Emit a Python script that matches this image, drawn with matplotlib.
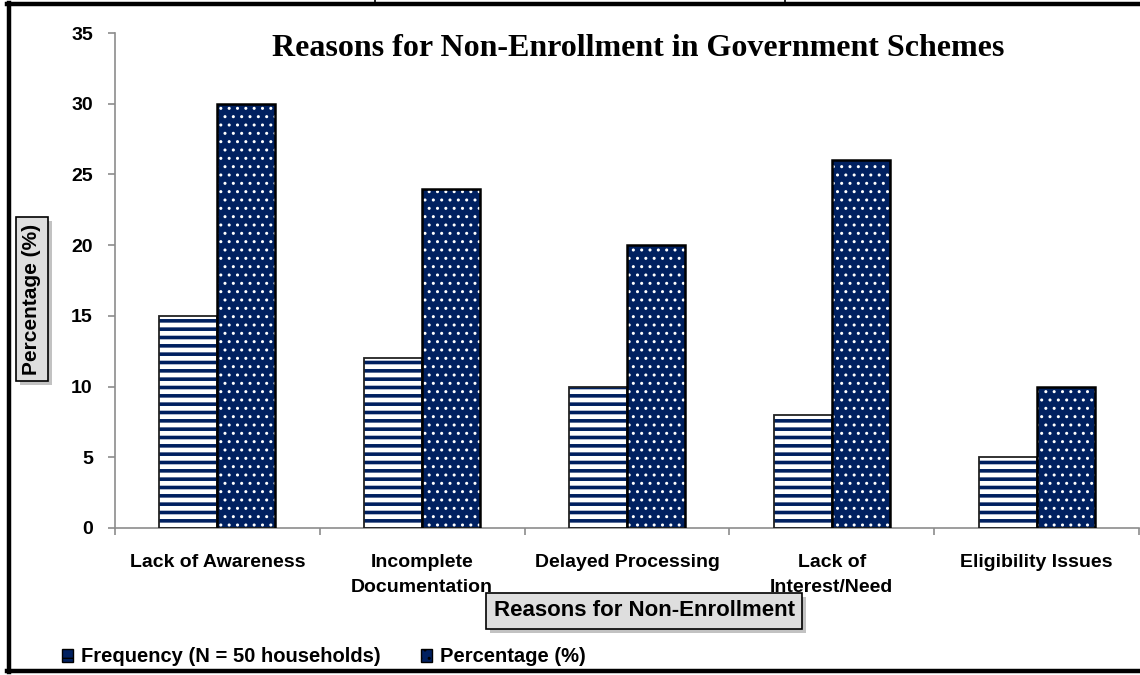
import numpy as np
import matplotlib
matplotlib.use('Agg')
import matplotlib.pyplot as plt
from matplotlib.patches import Rectangle
from matplotlib.lines import Line2D

# Data
reasons = ['Lack of Awareness', 'Incomplete\nDocumentation', 'Delayed Processing',
           'Lack of\nInterest/Need', 'Eligibility Issues']
frequency = [15, 12, 10, 8, 5]
percentage = [30, 24, 20, 26, 10]
series_names = ['Frequency (N = 50 households)', 'Percentage (%)']
y_ticks = [0, 5, 10, 15, 20, 25, 30, 35]

NAVY = '#002060'
AXIS_GRAY = '#8c8c8c'
SANS = ['Liberation Sans', 'DejaVu Sans']

W, H = 1140, 675


def fx(px):
    return px / W


def fy(px):
    return 1 - px / H


fig = plt.figure(figsize=(11.4, 6.75), dpi=100)
ax = fig.add_axes([fx(115), fy(528), 1024 / W, 495 / H])

x = np.arange(len(reasons))
w = 0.283

# frequency: white bars with navy horizontal stripes
with plt.rc_context({'hatch.linewidth': 2.6}):
    ax.bar(x - w / 2, frequency, w, color='white', edgecolor=NAVY,
           hatch='--', linewidth=0, zorder=2)
ax.bar(x - w / 2, frequency, w, fill=False, edgecolor='#222222', linewidth=1.3, zorder=3)

# percentage: navy bars with white dots
with plt.rc_context({'hatch.linewidth': 1.0}):
    ax.bar(x + w / 2, percentage, w, color=NAVY, edgecolor='white',
           hatch='..', linewidth=0, zorder=2)
ax.bar(x + w / 2, percentage, w, fill=False, edgecolor='black', linewidth=1.8, zorder=3)

ax.set_xlim(-0.5, len(reasons) - 0.5)
ax.set_ylim(0, 35)
ax.set_yticks(y_ticks)
ax.set_yticklabels([str(t) for t in y_ticks], fontsize=14, fontweight='bold', family=SANS)
ax.set_xticks(x)
ax.set_xticklabels(reasons, fontsize=14, fontweight='bold', family=SANS, linespacing=1.6)
ax.set_xticks(np.arange(len(reasons) + 1) - 0.5, minor=True)
ax.tick_params(axis='x', which='major', length=0, pad=19)
ax.tick_params(axis='x', which='minor', length=5, color=AXIS_GRAY, width=1.2)
ax.tick_params(axis='y', length=5, color=AXIS_GRAY, width=1.2, pad=11)

for side in ['top', 'right']:
    ax.spines[side].set_visible(False)
for side in ['left', 'bottom']:
    ax.spines[side].set_color(AXIS_GRAY)
    ax.spines[side].set_linewidth(1.2)

fig.text(fx(638), fy(56), 'Reasons for Non-Enrollment in Government Schemes',
         ha='center', va='baseline', fontsize=23, fontweight='bold', family='Liberation Serif')

# axis titles sit in grey boxes with a soft shadow
box_style = dict(boxstyle='square,pad=0.33', facecolor='#dedede', edgecolor='black', linewidth=1.2)
ylab = fig.text(fx(32), fy(299), 'Percentage (%)', rotation=90, ha='center', va='center',
                fontsize=15, fontweight='bold', family=SANS, bbox=box_style, zorder=5)
xlab = fig.text(fx(644), fy(611), 'Reasons for Non-Enrollment', ha='center', va='center',
                fontsize=16, fontweight='bold', family=SANS, bbox=box_style, zorder=5)

# legend at the bottom left
handles = [
    Rectangle((0, 0), 1, 1, facecolor=NAVY, edgecolor='white', hatch='-', linewidth=1.2),
    Rectangle((0, 0), 1, 1, facecolor=NAVY, edgecolor='white', hatch='..', linewidth=1.2),
]
leg = fig.legend(handles, series_names, loc='center left', bbox_to_anchor=(fx(52), fy(657)),
                 ncol=2, frameon=False, borderpad=0, handlelength=0.55, handleheight=0.6,
                 handletextpad=0.4, columnspacing=2.0,
                 prop={'family': SANS, 'weight': 'bold', 'size': 14.5})
for patch in leg.get_patches():
    patch.set_edgecolor('black')
    patch.set_linewidth(1.0)

fig.canvas.draw()
inv = fig.transFigure.inverted()
for t in [ylab, xlab]:
    bb = t.get_bbox_patch().get_window_extent().transformed(inv)
    fig.add_artist(Rectangle((bb.x0 + fx(4), bb.y0 - 4 / H), bb.width, bb.height,
                             transform=fig.transFigure, facecolor='#9a9a9a', edgecolor='none',
                             alpha=0.6, zorder=4))

# outer frame of the picture and bits of the table above it
frame = dict(transform=fig.transFigure, color='black', linewidth=3.2)
fig.add_artist(Line2D([fx(9), fx(9)], [fy(672), fy(3)], **frame))
fig.add_artist(Line2D([fx(7), 1], [fy(4), fy(4)], **frame))
fig.add_artist(Line2D([fx(7), 1], [fy(671), fy(671)], **frame))
for xp in [375, 785]:
    fig.add_artist(Line2D([fx(xp), fx(xp)], [1, fy(4)], transform=fig.transFigure,
                          color='black', linewidth=1.2))

fig.savefig('out.png', dpi=100)
